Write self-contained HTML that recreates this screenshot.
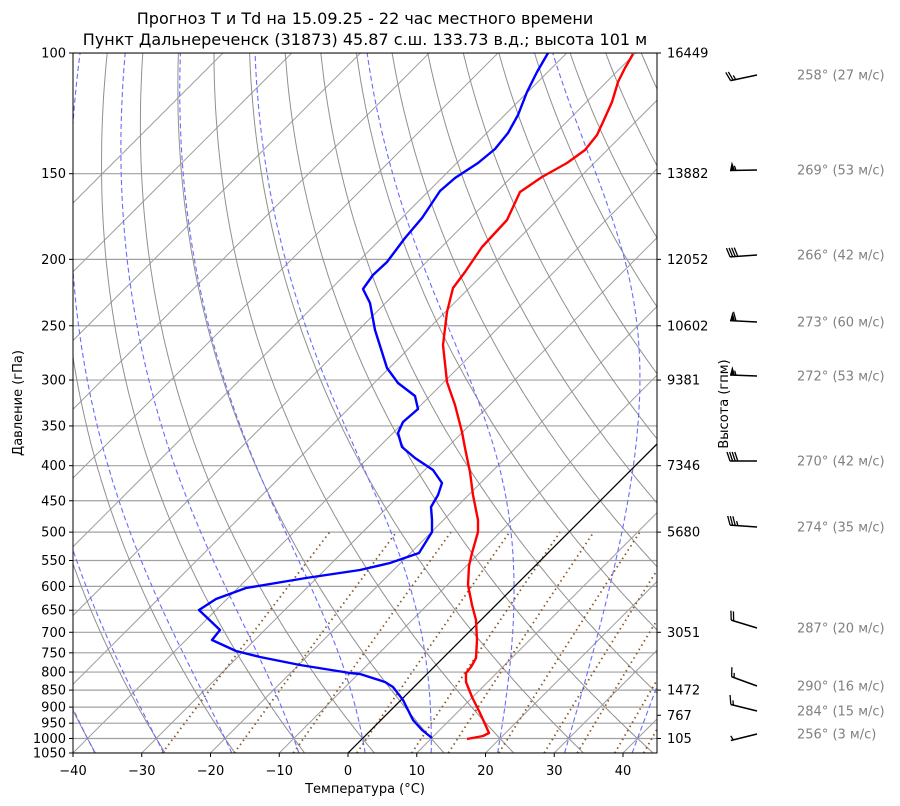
<!DOCTYPE html>
<html><head><meta charset="utf-8">
<style>
body{margin:0;background:#fff;}
svg{display:block;font-family:"DejaVu Sans","Liberation Sans",sans-serif;}
</style></head>
<body>
<svg id="s" width="900" height="806" xmlns="http://www.w3.org/2000/svg">
<defs><clipPath id="c"><rect x="73" y="53" width="584" height="700"/></clipPath></defs>
<rect width="900" height="806" fill="#fff"/>
<g id="bg" clip-path="url(#c)"></g>
<g id="prof" clip-path="url(#c)">
<polyline fill="none" stroke="#ff0000" stroke-width="2.4" stroke-linejoin="round" points="633,54 625,68 618,82 612,102 603,122 597,135 585,150 567,163 542,177 520,192 507,220 482,247 465,272 453,288 447,312 443,345 447,382 455,405 462,432 465,448 470,472 473,495 478,520 478,532 472,553 469,566 468,585 472,605 476,620 477,640 476,658 471,667 466,673 466,682 472,697 480,713 489,733 483,736 467,739"/>
<polyline fill="none" stroke="#0000ff" stroke-width="2.4" stroke-linejoin="round" points="548,53 537,72 527,92 518,115 508,133 495,149 478,163 455,178 440,191 422,218 405,238 387,262 373,275 363,289 370,303 375,330 387,368 398,383 415,396 418,409 403,422 398,433 402,447 415,458 433,470 442,483 438,495 431,507 432,520 432,532 419,553 390,563 360,570 306,578 246,588 216,599 199,610 220,630 212,640 236,651 260,657 300,665 350,673 360,674 385,682 393,687 403,700 413,720 422,730 432,738"/>
</g>
<rect x="73" y="53" width="584" height="700" fill="none" stroke="#000" stroke-width="1"/>
<g id="ax" font-size="13" fill="#000"></g>
<text x="365" y="24" font-size="16" text-anchor="middle">Прогноз T и Td на 15.09.25 - 22 час местного времени</text>
<text x="365" y="45" font-size="16" text-anchor="middle">Пункт Дальнереченск (31873) 45.87 с.ш. 133.73 в.д.; высота 101 м</text>
<text x="365" y="793" font-size="13" text-anchor="middle">Температура (°C)</text>
<text transform="translate(22,403) rotate(-90)" font-size="13" text-anchor="middle">Давление (гПа)</text>
<text transform="translate(728,404) rotate(-90)" font-size="13" text-anchor="middle">Высота (гпм)</text>
<g id="barbs"></g>
</svg>
<script>
(function(){
var NS="http://www.w3.org/2000/svg";
function Y(p){return 53+700*Math.log(p/100)/Math.log(10.5);}
function X(T,p){return 348+6.875*T+(753-Y(p));}
function el(par,tag,at,txt){var e=document.createElementNS(NS,tag);for(var k in at)e.setAttribute(k,at[k]);if(txt!==undefined)e.textContent=txt;par.appendChild(e);return e;}
var bg=document.getElementById('bg'),ax=document.getElementById('ax');
var ps=[];for(var p=100;p<=1050;p+=50)ps.push(p);
ps.forEach(function(p){var y=Y(p);el(bg,'line',{x1:73,x2:657,y1:y,y2:y,stroke:'#a0a0a0','stroke-width':1.2});
 el(ax,'line',{x1:69,x2:73,y1:y,y2:y,stroke:'#000'});
 el(ax,'text',{x:66,y:y+4.5,'text-anchor':'end'},String(p));});
for(var T=-120;T<=50;T+=10){el(bg,'line',{x1:X(T,1050),y1:Y(1050),x2:X(T,100),y2:Y(100),stroke:'#a0a0a0','stroke-width':1});}
function poly(f,p0,p1,st){var pts=[];for(var p=p0;p>=p1;p-=5){var T=f(p);if(T===null)continue;pts.push(X(T,p).toFixed(1)+','+Y(p).toFixed(1));}
 var a={points:pts.join(' '),fill:'none'};for(var k in st)a[k]=st[k];el(bg,'polyline',a);}
for(var t0=-60;t0<=220;t0+=10){(function(th){poly(function(p){return th*Math.pow(p/1000,0.2857)-273.15;},1050,100,{stroke:'#909090','stroke-width':1});})(t0+273.15);}
var Rd=287.04,Cp=1005.7,Lv=2.501e6,eps=0.622;
function es(Tc){return 6.112*Math.exp(17.67*Tc/(Tc+243.5));}
function moist(t0){var map={};var T=t0+273.15;map[1000]=T;
 function d(T,p){var rs=eps*es(T-273.15)/(p-es(T-273.15));return (Rd*T+Lv*rs)/(p*(Cp+Lv*Lv*rs*eps/(Rd*T*T)));}
 var Tc=T;for(var p=1000;p>100;p-=1){Tc-=d(Tc,p)*1;if((p-1)%5==0)map[p-1]=Tc;}
 Tc=T;for(p=1000;p<1050;p+=1){Tc+=d(Tc,p);if((p+1)%5==0)map[p+1]=Tc;}
 return function(p){return map[p]!==undefined?map[p]-273.15:null;};}
for(var m=-40;m<=40;m+=10)poly(moist(m),1050,100,{stroke:'#6a6aff','stroke-width':1.1,'stroke-dasharray':'5,3'});
[0.0004,0.001,0.002,0.004,0.007,0.01,0.016,0.024,0.032,0.044,0.056].forEach(function(w){
 poly(function(p){var e=w*p/(eps+w);var l=Math.log(e/6.112);return 243.5*l/(17.67-l);},1050,500,{stroke:'#8b5a2b','stroke-width':1.8,'stroke-dasharray':'1.5,3.5'});});
el(bg,'line',{x1:X(0,1050),y1:Y(1050),x2:X(0,100),y2:Y(100),stroke:'#000','stroke-width':1.2});
for(var T=-40;T<=40;T+=10){var x=348+6.875*T;el(ax,'line',{x1:x,x2:x,y1:753,y2:757,stroke:'#000'});
 el(ax,'text',{x:x,y:775,'text-anchor':'middle'},T<0?'\u2212'+(-T):String(T));}
[[100,'16449'],[150,'13882'],[200,'12052'],[250,'10602'],[300,'9381'],[400,'7346'],[500,'5680'],[700,'3051'],[850,'1472'],[925,'767'],[1000,'105']].forEach(function(a){
 var y=Y(a[0]);el(ax,'line',{x1:657,x2:661,y1:y,y2:y,stroke:'#000'});el(ax,'text',{x:667,y:y+4.5},a[1]);});
var bb=document.getElementById('barbs');
[[75,258,27],[170,269,53],[255,266,42],[322,273,60],[376,272,53],[461,270,42],[527,274,35],[628,287,20],[686,290,16],[711,284,15],[734,256,3]].forEach(function(b){
 var y=b[0],d=b[1]*Math.PI/180,v=b[2];
 var sx=Math.sin(d),sy=-Math.cos(d),px=-sy,py=sx;
 var cx=757,cy=y,L=27,tx=cx+sx*L,ty=cy+sy*L;
 el(bb,'line',{x1:cx,y1:cy,x2:tx,y2:ty,stroke:'#000','stroke-width':1.5});
 var r=Math.round(v/5)*5,f=Math.floor(r/50);r-=f*50;var fu=Math.floor(r/10);r-=fu*10;var h=r>=5?1:0;
 var pos=0,H=9;
 for(var i=0;i<f;i++){var ax0=tx-sx*pos,ay0=ty-sy*pos;
  el(bb,'polygon',{points:[ax0,ay0,ax0+px*H-sx*2,ay0+py*H-sy*2,ax0-sx*5,ay0-sy*5].join(' '),fill:'#000'});pos+=6;}
 for(i=0;i<fu;i++){var ax0=tx-sx*pos,ay0=ty-sy*pos;
  el(bb,'line',{x1:ax0,y1:ay0,x2:ax0+px*H+sx*3,y2:ay0+py*H+sy*3,stroke:'#000','stroke-width':1.3});pos+=2.6;}
 if(h){if(pos==0&&f==0&&fu==0)pos=2.6;var ax0=tx-sx*pos,ay0=ty-sy*pos;
  el(bb,'line',{x1:ax0,y1:ay0,x2:ax0+px*H/2+sx*1.5,y2:ay0+py*H/2+sy*1.5,stroke:'#000','stroke-width':1.3});}
 el(bb,'text',{x:797,y:y+4.5,'font-size':13,fill:'#808080'},b[1]+'° ('+b[2]+' м/с)');});
})();
</script>
</body></html>
